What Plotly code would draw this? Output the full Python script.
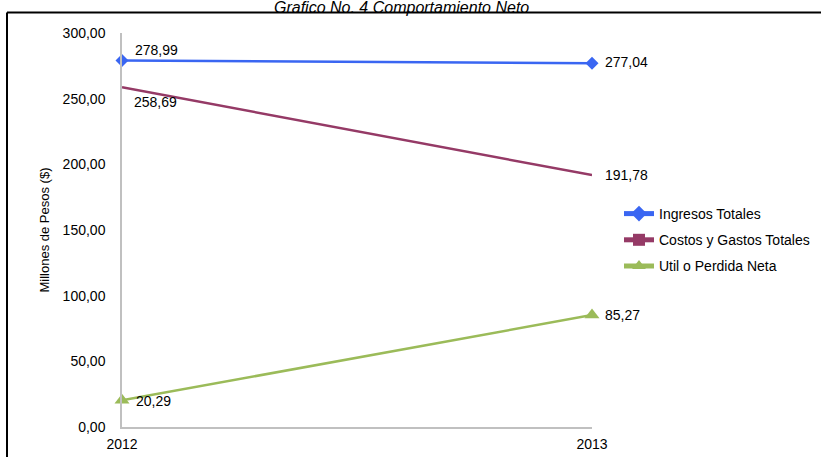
import plotly.graph_objects as go

years = [2012, 2013]
ingresos = [278.99, 277.04]
costos = [258.69, 191.78]
utilidad = [20.29, 85.27]

series_names = ["Ingresos Totales", "Costos y Gastos Totales", "Util o Perdida Neta"]
y_ticks = [0, 50, 100, 150, 200, 250, 300]

BLUE = "#3A66F2"
MAROON = "#953A66"
GREEN = "#9BBB59"
FONT = "Liberation Sans, Arial, sans-serif"
FS = 14

# plot area in pixels (821 x 457 canvas)
L, R, T, B = 122, 592, 33, 427
W, H = 821, 457


def px_x(px):
    return (px - L) / (R - L)


def px_y(py):
    return (B - py) / (B - T)


fig = go.Figure()

fig.add_trace(go.Scatter(
    x=years, y=ingresos, name=series_names[0], legendgroup="a",
    mode="lines+markers",
    line=dict(color=BLUE, width=2.5),
    marker=dict(symbol="diamond", size=10, color=BLUE),
    cliponaxis=False,
))

fig.add_trace(go.Scatter(
    x=years, y=costos, name=series_names[1], legendgroup="b",
    mode="lines",
    line=dict(color=MAROON, width=2.5),
    cliponaxis=False,
    showlegend=False,
))
# legend entry for costos (square marker only in legend)
fig.add_trace(go.Scatter(
    x=[None], y=[None], name=series_names[1], legendgroup="b",
    mode="lines+markers",
    line=dict(color=MAROON, width=2.5),
    marker=dict(symbol="square", size=9, color=MAROON),
))

fig.add_trace(go.Scatter(
    x=years, y=utilidad, name=series_names[2], legendgroup="c",
    mode="lines+markers",
    line=dict(color=GREEN, width=2.5),
    marker=dict(symbol="triangle-up", size=13, color=GREEN),
    cliponaxis=False,
))

# data labels: (values, x shift, y shift) per point
label_specs = [
    (ingresos, [11, 11], [11, 1]),
    (costos, [10, 11], [-15, 0]),
    (utilidad, [12, 11], [-1, 0]),
]
for vals, dxs, dys in label_specs:
    for xv, yv, dx, dy in zip(years, vals, dxs, dys):
        fig.add_annotation(
            x=xv, y=yv, text=f"{yv:.2f}".replace(".", ","),
            showarrow=False, xanchor="left", yanchor="middle",
            xshift=dx, yshift=dy,
            font=dict(size=FS, color="#000000", family=FONT),
        )

# outer frame (partly outside the picture)
fig.add_shape(type="line", xref="paper", yref="paper",
              x0=px_x(7), x1=px_x(830), y0=px_y(12.5), y1=px_y(12.5),
              line=dict(color="#000000", width=2))
fig.add_shape(type="line", xref="paper", yref="paper",
              x0=px_x(7), x1=px_x(7), y0=px_y(12.5), y1=px_y(470),
              line=dict(color="#000000", width=2))

fig.add_annotation(
    text="<i>Grafico No. 4 Comportamiento Neto</i>",
    xref="paper", yref="paper", x=px_x(401), y=px_y(8),
    showarrow=False, font=dict(size=16, color="#000000", family=FONT),
    xanchor="center", yanchor="middle",
)

fig.update_layout(
    width=W, height=H,
    margin=dict(l=L, r=W - R, t=T, b=H - B, autoexpand=False),
    paper_bgcolor="white", plot_bgcolor="white",
    separators=",.",
    font=dict(family=FONT, size=FS, color="#000000"),
    showlegend=True,
    legend=dict(
        x=px_x(619), y=px_y(240), xanchor="left", yanchor="middle",
        font=dict(size=FS, color="#000000"),
        tracegroupgap=5, itemsizing="constant", itemwidth=30,
        bgcolor="rgba(0,0,0,0)",
    ),
    xaxis=dict(
        range=[2012, 2013], tickvals=years, ticktext=[str(y) for y in years],
        showgrid=False, zeroline=False,
        showline=True, linecolor="#C0C0C0", linewidth=2,
        ticks="", ticklabelstandoff=3,
        tickfont=dict(size=FS),
    ),
    yaxis=dict(
        range=[0, 300], tickvals=y_ticks, tickformat=".2f",
        showgrid=False, zeroline=False,
        showline=True, linecolor="#C0C0C0", linewidth=1.5,
        ticks="", ticklabelstandoff=12,
        tickfont=dict(size=FS),
        title=dict(text="Millones de Pesos ($)", font=dict(size=13), standoff=10),
    ),
)

# drop the page's default body margin so the figure sits at the window corner
fig.write_html(
    "out.html",
    config={"displayModeBar": False},
    post_script="document.body.style.margin='0';",
)
